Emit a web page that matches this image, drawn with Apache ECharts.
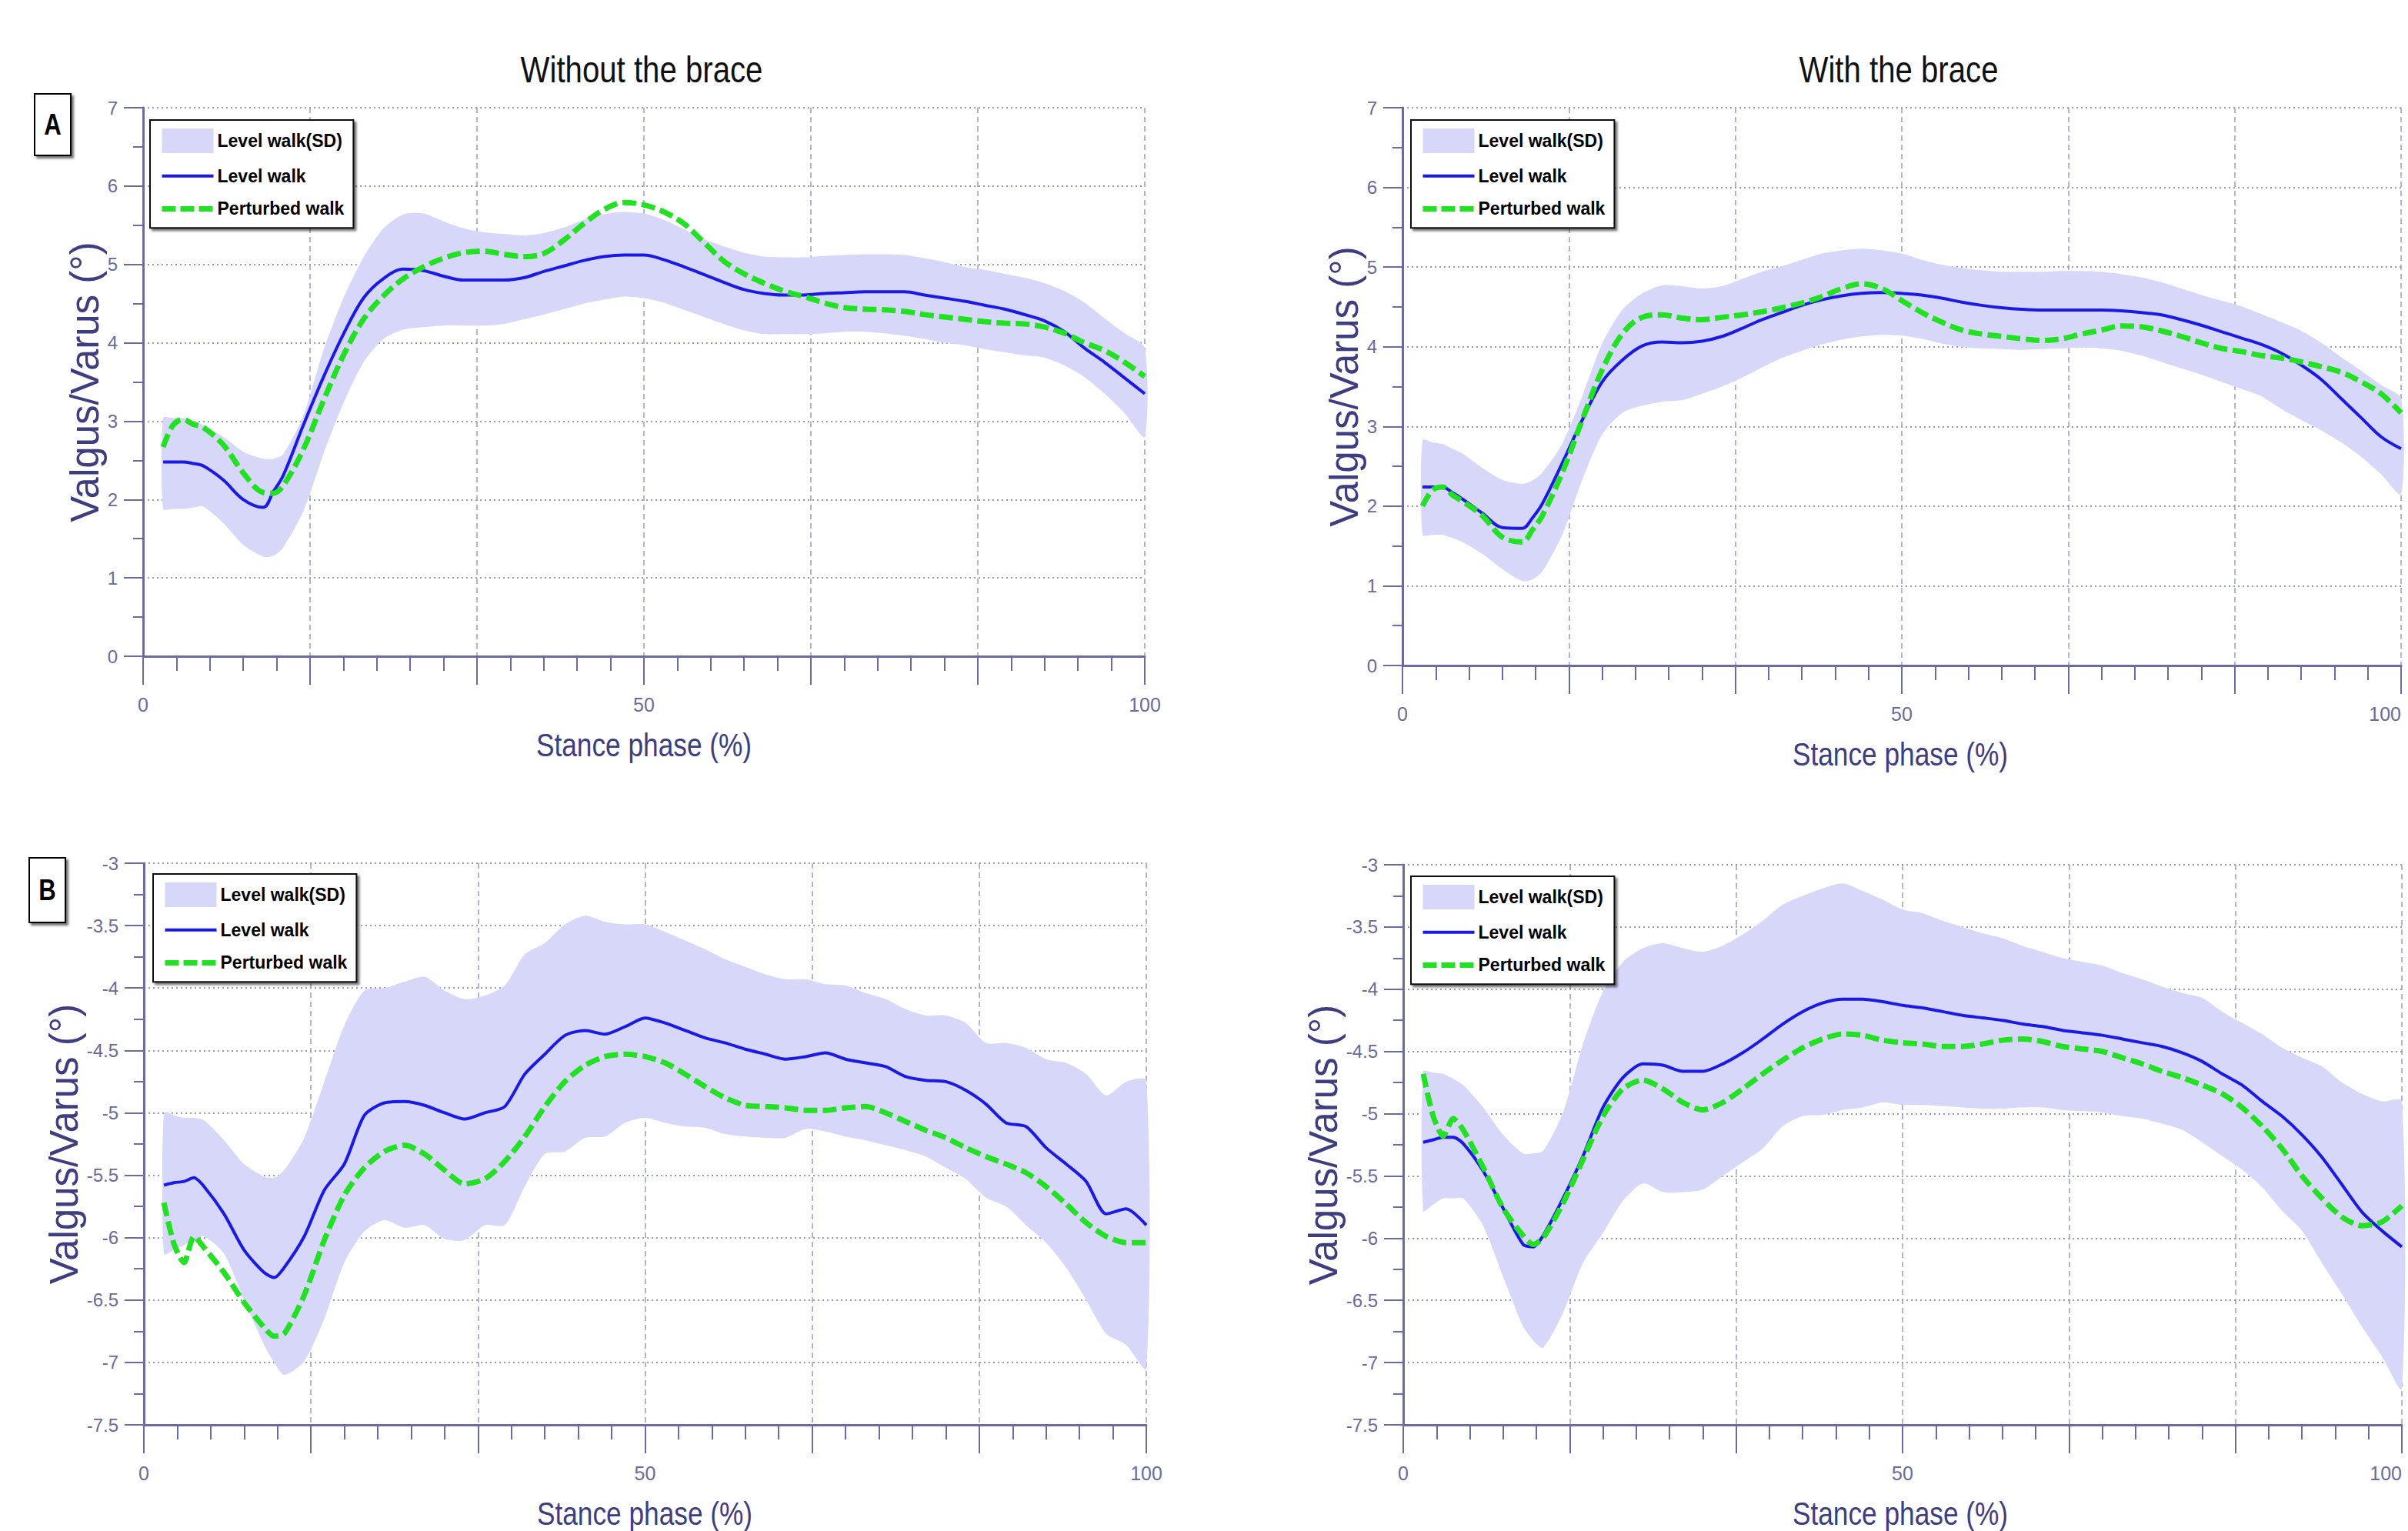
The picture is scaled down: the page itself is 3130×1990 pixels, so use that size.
<!DOCTYPE html>
<html><head><meta charset="utf-8">
<script src="https://cdn.jsdelivr.net/npm/echarts@6/dist/echarts.min.js"></script>
<style>html,body{margin:0;padding:0;background:#fff}#c{width:3130px;height:1990px}</style>
</head><body><div id="c"></div>
<script>
// ---------- DATA ----------
const phase = [2,3,4,5,6,8,10,12,13,14,16,18,20,22,24,26,28,30,32,34,36,38,40,42,44,46,48,50,52,54,56,58,60,62,64,66,68,70,72,74,76,78,80,82,84,86,88,90,92,94,96,98,100];

// Panel A, without the brace
const aNoLevel = [2.48,2.48,2.48,2.46,2.43,2.25,2.00,1.90,2.10,2.31,2.95,3.56,4.11,4.57,4.82,4.94,4.92,4.85,4.80,4.80,4.80,4.83,4.91,4.98,5.05,5.10,5.12,5.12,5.06,4.97,4.87,4.77,4.68,4.63,4.61,4.61,4.63,4.64,4.65,4.65,4.65,4.61,4.57,4.53,4.48,4.43,4.36,4.28,4.14,3.93,3.75,3.55,3.35];
const aNoPerturbed = [2.67,2.95,3.02,2.96,2.92,2.70,2.34,2.09,2.08,2.18,2.64,3.26,3.84,4.30,4.60,4.82,4.97,5.08,5.15,5.17,5.13,5.10,5.14,5.31,5.52,5.70,5.79,5.76,5.67,5.52,5.28,5.04,4.88,4.76,4.66,4.59,4.51,4.45,4.43,4.42,4.40,4.36,4.33,4.30,4.27,4.25,4.24,4.20,4.12,4.00,3.90,3.75,3.57];
const aNoUpper = [3.04,3.04,3.04,3.00,2.95,2.80,2.61,2.52,2.52,2.58,3.07,3.90,4.57,5.09,5.46,5.64,5.65,5.55,5.46,5.41,5.39,5.37,5.40,5.47,5.57,5.64,5.67,5.65,5.57,5.45,5.32,5.23,5.15,5.10,5.09,5.09,5.11,5.12,5.13,5.13,5.12,5.08,5.03,4.97,4.93,4.88,4.83,4.76,4.66,4.51,4.31,4.12,3.93];
const aNoLower = [1.88,1.88,1.88,1.90,1.91,1.70,1.42,1.27,1.28,1.39,1.85,2.58,3.23,3.75,4.05,4.17,4.20,4.22,4.22,4.22,4.24,4.30,4.36,4.43,4.50,4.55,4.59,4.57,4.51,4.42,4.33,4.24,4.16,4.11,4.11,4.11,4.12,4.14,4.14,4.12,4.09,4.05,4.00,3.97,3.92,3.88,3.84,3.81,3.71,3.56,3.35,3.10,2.80];

// Panel A, with the brace
const aBrLevel = [2.24,2.24,2.24,2.17,2.09,1.91,1.73,1.72,1.85,2.03,2.54,3.08,3.56,3.83,4.01,4.06,4.05,4.07,4.13,4.23,4.34,4.43,4.52,4.59,4.64,4.67,4.68,4.67,4.65,4.61,4.56,4.52,4.49,4.47,4.46,4.46,4.46,4.46,4.45,4.43,4.40,4.34,4.27,4.19,4.11,4.03,3.92,3.77,3.59,3.35,3.11,2.87,2.72];
const aBrPerturbed = [2.00,2.20,2.24,2.14,2.06,1.88,1.61,1.55,1.70,1.88,2.42,3.08,3.71,4.16,4.37,4.40,4.36,4.34,4.37,4.40,4.44,4.49,4.55,4.63,4.73,4.79,4.73,4.58,4.43,4.31,4.21,4.16,4.13,4.10,4.08,4.10,4.16,4.21,4.26,4.25,4.20,4.13,4.05,3.98,3.94,3.89,3.86,3.81,3.75,3.68,3.56,3.41,3.17];
const aBrUpper = [2.83,2.80,2.78,2.72,2.66,2.48,2.33,2.28,2.32,2.42,2.78,3.38,4.04,4.46,4.67,4.77,4.76,4.73,4.76,4.85,4.94,5.01,5.09,5.17,5.21,5.23,5.21,5.17,5.09,5.03,4.99,4.96,4.94,4.94,4.94,4.95,4.95,4.94,4.91,4.87,4.81,4.73,4.65,4.58,4.51,4.41,4.31,4.20,4.05,3.87,3.70,3.52,3.35];
const aBrLower = [1.64,1.64,1.64,1.60,1.55,1.40,1.21,1.06,1.08,1.18,1.64,2.33,2.90,3.17,3.26,3.31,3.33,3.41,3.50,3.61,3.74,3.86,3.95,4.03,4.09,4.13,4.15,4.14,4.10,4.04,4.00,3.98,3.97,3.96,3.97,3.98,3.99,3.98,3.95,3.89,3.81,3.73,3.65,3.56,3.47,3.38,3.22,3.08,2.95,2.80,2.62,2.40,2.15];

// Panel B, without the brace
const bNoLevel = [-5.58,-5.56,-5.55,-5.52,-5.59,-5.81,-6.10,-6.28,-6.32,-6.24,-5.99,-5.62,-5.41,-5.02,-4.92,-4.91,-4.94,-5.00,-5.05,-5.00,-4.95,-4.69,-4.53,-4.38,-4.34,-4.37,-4.31,-4.24,-4.28,-4.34,-4.40,-4.44,-4.49,-4.53,-4.57,-4.55,-4.52,-4.57,-4.60,-4.63,-4.71,-4.74,-4.75,-4.82,-4.93,-5.08,-5.11,-5.28,-5.41,-5.55,-5.81,-5.77,-5.90];
const bNoPerturbed = [-5.72,-6.05,-6.20,-5.99,-6.08,-6.28,-6.52,-6.72,-6.79,-6.77,-6.46,-6.02,-5.66,-5.44,-5.31,-5.26,-5.33,-5.46,-5.57,-5.53,-5.39,-5.19,-4.95,-4.75,-4.62,-4.55,-4.53,-4.55,-4.60,-4.69,-4.79,-4.88,-4.94,-4.95,-4.96,-4.98,-4.98,-4.96,-4.95,-5.00,-5.07,-5.14,-5.20,-5.28,-5.35,-5.41,-5.48,-5.59,-5.73,-5.88,-5.99,-6.04,-6.04];
const bNoUpper = [-5.00,-5.02,-5.04,-5.04,-5.06,-5.22,-5.41,-5.51,-5.52,-5.46,-5.20,-4.75,-4.30,-4.02,-4.00,-3.95,-3.91,-4.02,-4.09,-4.06,-3.98,-3.73,-3.64,-3.49,-3.42,-3.47,-3.49,-3.49,-3.55,-3.62,-3.69,-3.77,-3.83,-3.89,-3.93,-3.93,-3.97,-3.98,-4.04,-4.09,-4.17,-4.22,-4.22,-4.28,-4.44,-4.44,-4.48,-4.57,-4.60,-4.69,-4.86,-4.75,-4.74];
const bNoLower = [-6.13,-6.10,-6.06,-6.02,-5.99,-6.13,-6.50,-6.86,-7.00,-7.10,-6.99,-6.65,-6.20,-5.95,-5.86,-5.92,-5.90,-6.01,-6.02,-5.90,-5.90,-5.59,-5.33,-5.31,-5.20,-5.19,-5.08,-5.04,-5.08,-5.11,-5.12,-5.17,-5.19,-5.20,-5.20,-5.13,-5.15,-5.19,-5.22,-5.26,-5.30,-5.35,-5.44,-5.53,-5.68,-5.75,-5.90,-6.04,-6.24,-6.50,-6.77,-6.86,-7.05];

// Panel B, with the brace
const bBrLevel = [-5.23,-5.21,-5.19,-5.19,-5.24,-5.46,-5.76,-6.05,-6.07,-5.98,-5.68,-5.34,-4.95,-4.71,-4.60,-4.61,-4.66,-4.66,-4.60,-4.51,-4.40,-4.28,-4.18,-4.11,-4.08,-4.08,-4.10,-4.13,-4.15,-4.18,-4.21,-4.23,-4.25,-4.28,-4.30,-4.33,-4.35,-4.37,-4.40,-4.43,-4.46,-4.51,-4.58,-4.68,-4.77,-4.90,-5.02,-5.17,-5.35,-5.57,-5.79,-5.94,-6.07];
const bBrPerturbed = [-4.68,-5.02,-5.18,-5.04,-5.13,-5.43,-5.76,-5.98,-6.05,-6.00,-5.72,-5.37,-5.02,-4.80,-4.73,-4.80,-4.91,-4.97,-4.91,-4.80,-4.68,-4.57,-4.47,-4.40,-4.36,-4.37,-4.41,-4.43,-4.44,-4.46,-4.46,-4.44,-4.41,-4.40,-4.42,-4.46,-4.48,-4.50,-4.55,-4.60,-4.66,-4.71,-4.77,-4.84,-4.95,-5.10,-5.28,-5.50,-5.68,-5.83,-5.90,-5.87,-5.74];
const bBrUpper = [-4.66,-4.67,-4.68,-4.72,-4.77,-4.95,-5.17,-5.32,-5.32,-5.30,-4.99,-4.44,-4.02,-3.78,-3.67,-3.63,-3.67,-3.70,-3.65,-3.56,-3.45,-3.32,-3.25,-3.19,-3.15,-3.21,-3.28,-3.36,-3.39,-3.45,-3.50,-3.55,-3.59,-3.65,-3.70,-3.75,-3.78,-3.81,-3.87,-3.92,-3.98,-4.03,-4.07,-4.18,-4.27,-4.36,-4.47,-4.55,-4.62,-4.75,-4.84,-4.90,-4.90];
const bBrLower = [-5.78,-5.73,-5.68,-5.68,-5.68,-5.90,-6.31,-6.71,-6.82,-6.88,-6.60,-6.20,-5.96,-5.70,-5.56,-5.63,-5.63,-5.61,-5.50,-5.39,-5.28,-5.10,-5.02,-5.01,-4.97,-4.95,-4.91,-4.93,-4.93,-4.94,-4.95,-4.96,-4.96,-4.95,-4.95,-4.97,-4.98,-4.99,-5.02,-5.04,-5.08,-5.13,-5.23,-5.34,-5.45,-5.59,-5.78,-5.94,-6.20,-6.45,-6.71,-6.95,-7.21];

const columnTitles = ['Without the brace', 'With the brace'];
const panelLetters = ['A', 'B'];
const xAxisName = 'Stance phase (%)';
const yAxisName = 'Valgus/Varus (°)';
const legendNames = ['Level walk(SD)', 'Level walk', 'Perturbed walk'];
const yRangeA = [0, 7, 1];
const yRangeB = [-7.5, -3, 0.5];

// ---------- STYLE ----------
const FONT = '"Liberation Sans",Arial,sans-serif';
const SQ = 0.82; // horizontal squeeze of the reference's lettering
const AX = '#6b6ba3', LBL = '#6a6a9c', NAME = '#3d3d80', GRID = '#9a9ac4';
const BAND = '#d7d7fa', BLUE = '#1a1ae6', GREEN = '#22e022';

const panels = [
  {grid:{left:186, top:140, width:1302, height:713}, yr:yRangeA, lev:aNoLevel, per:aNoPerturbed, up:aNoUpper, lo:aNoLower, yGap:46, legend:[195,156], xName:[837,968], edge:false},
  {grid:{left:1823, top:140, width:1298, height:725}, yr:yRangeA, lev:aBrLevel, per:aBrPerturbed, up:aBrUpper, lo:aBrLower, yGap:46, legend:[1834,156], xName:[2470,980], edge:true},
  {grid:{left:187, top:1122, width:1303, height:730}, yr:yRangeB, lev:bNoLevel, per:bNoPerturbed, up:bNoUpper, lo:bNoLower, yGap:71, legend:[199,1136], xName:[838,1967], edge:false},
  {grid:{left:1824, top:1124, width:1298, height:728}, yr:yRangeB, lev:bBrLevel, per:bBrPerturbed, up:bBrUpper, lo:bBrLower, yGap:74, legend:[1834,1139], xName:[2470,1967], edge:true}
];

const pairs = arr => phase.map((x, i) => [x, arr[i]]);

const grids = [], xAxes = [], yAxes = [], series = [], legends = [], graphics = [];
panels.forEach((p, k) => {
  grids.push(Object.assign({outerBoundsMode:'none', containLabel:false}, p.grid));
  const xLabel = {margin:50, fontSize:25, fontFamily:FONT, color:LBL, hideOverlap:false,
      formatter:v => { const r = Math.round(v); return (Math.abs(v - r) < 1e-6 && r % 50 === 0) ? String(r) : ''; }};
  if (p.edge) xLabel.alignMaxLabel = 'right';
  xAxes.push({
    type:'value', gridIndex:k, min:0, max:100, interval:100/6,
    axisLine:{show:true, onZero:false, lineStyle:{color:AX, width:3}},
    axisTick:{show:true, length:37, lineStyle:{color:AX, width:2}},
    minorTick:{show:true, splitNumber:5, length:19, lineStyle:{color:AX, width:2}},
    axisLabel:xLabel,
    splitLine:{show:true, lineStyle:{color:GRID, width:1.5, type:[7,5]}}
  });
  yAxes.push({
    type:'value', gridIndex:k, min:p.yr[0], max:p.yr[1], interval:p.yr[2],
    axisLine:{show:true, onZero:false, lineStyle:{color:AX, width:3}},
    axisTick:{show:true, length:25, lineStyle:{color:AX, width:2}},
    minorTick:{show:true, splitNumber:2, length:13, lineStyle:{color:AX, width:2}},
    axisLabel:{margin:33, fontSize:24, fontFamily:FONT, color:LBL},
    splitLine:{show:true, lineStyle:{color:GRID, width:2, type:[2,4]}},
    name:yAxisName, nameLocation:'middle', nameGap:p.yGap,
    nameTextStyle:{fontSize:51, fontFamily:FONT, color:NAME}
  });
  const sm = k < 2 ? 0.35 : 0.25;
  // SD band: polygon between the upper and lower edges, placed through the axes
  series.push({
    type:'custom', name:legendNames[0], xAxisIndex:k, yAxisIndex:k, silent:true, z:1,
    itemStyle:{color:BAND},
    data:phase.map((x, i) => [x, p.lo[i], p.up[i]]),
    encode:{x:0, y:[1,2]},
    renderItem:(params, api) => {
      if (params.dataIndex !== 0) return null;
      const top = phase.map((x, i) => api.coord([x, p.up[i]]));
      const bot = phase.map((x, i) => api.coord([x, p.lo[i]])).reverse();
      return {type:'polygon', shape:{points:top.concat(bot), smooth:0.25}, style:{fill:BAND}};
    }
  });
  series.push({type:'line', name:legendNames[1], xAxisIndex:k, yAxisIndex:k, data:pairs(p.lev),
    symbol:'none', smooth:sm, itemStyle:{color:BLUE}, lineStyle:{color:BLUE, width:4}, z:3});
  series.push({type:'line', name:legendNames[2], xAxisIndex:k, yAxisIndex:k, data:pairs(p.per),
    symbol:'none', smooth:sm, itemStyle:{color:GREEN}, lineStyle:{color:GREEN, width:7, type:[18,7]}, z:4});
  legends.push({
    left:p.legend[0], top:p.legend[1], orient:'vertical', selectedMode:false,
    itemWidth:67, itemHeight:32, itemGap:17, padding:[11,12,12,12],
    backgroundColor:'#fff', borderColor:'#111', borderWidth:2,
    shadowBlur:3, shadowColor:'rgba(0,0,0,0.55)', shadowOffsetX:3, shadowOffsetY:3,
    textStyle:{fontFamily:FONT, fontWeight:'bold', fontSize:23, color:'#000'},
    data:[
      {name:legendNames[0], icon:'rect', itemStyle:{color:BAND}},
      {name:legendNames[1], itemStyle:{color:BLUE, opacity:0}, lineStyle:{color:BLUE, width:4, opacity:1}},
      {name:legendNames[2], itemStyle:{color:GREEN, opacity:0}, lineStyle:{color:GREEN, width:7, type:[18,6], opacity:1}}
    ]
  });
  graphics.push({type:'text', x:p.xName[0], y:p.xName[1], scaleX:SQ,
    style:{text:xAxisName, fontSize:43, fontFamily:FONT, fill:NAME, align:'center', verticalAlign:'middle'}});
});

const letterBox = (x, y, w, h, t) => ([
  {type:'rect', shape:{x:x, y:y, width:w, height:h},
   style:{fill:'#fff', stroke:'#000', lineWidth:2, shadowBlur:3, shadowColor:'rgba(0,0,0,0.55)', shadowOffsetX:3, shadowOffsetY:3}},
  {type:'text', x:x + w/2, y:y + h/2, scaleX:SQ,
   style:{text:t, fontSize:38, fontWeight:'bold', fontFamily:FONT, fill:'#000', align:'center', verticalAlign:'middle'}}
]);

graphics.push(
  {type:'text', x:834, y:90, scaleX:SQ, style:{text:columnTitles[0], fontSize:49, fontFamily:FONT, fill:'#111', align:'center', verticalAlign:'middle'}},
  {type:'text', x:2468, y:90, scaleX:SQ, style:{text:columnTitles[1], fontSize:49, fontFamily:FONT, fill:'#111', align:'center', verticalAlign:'middle'}},
  ...letterBox(45, 122, 47, 80, panelLetters[0]),
  ...letterBox(38, 1115, 47, 84, panelLetters[1])
);

const chart = echarts.init(document.getElementById('c'), null, {renderer:'svg', width:3130, height:1990});
chart.setOption({
  animation:false, backgroundColor:'#fff',
  grid:grids, xAxis:xAxes, yAxis:yAxes, series:series, legend:legends, graphic:graphics
});
</script>
</body></html>
